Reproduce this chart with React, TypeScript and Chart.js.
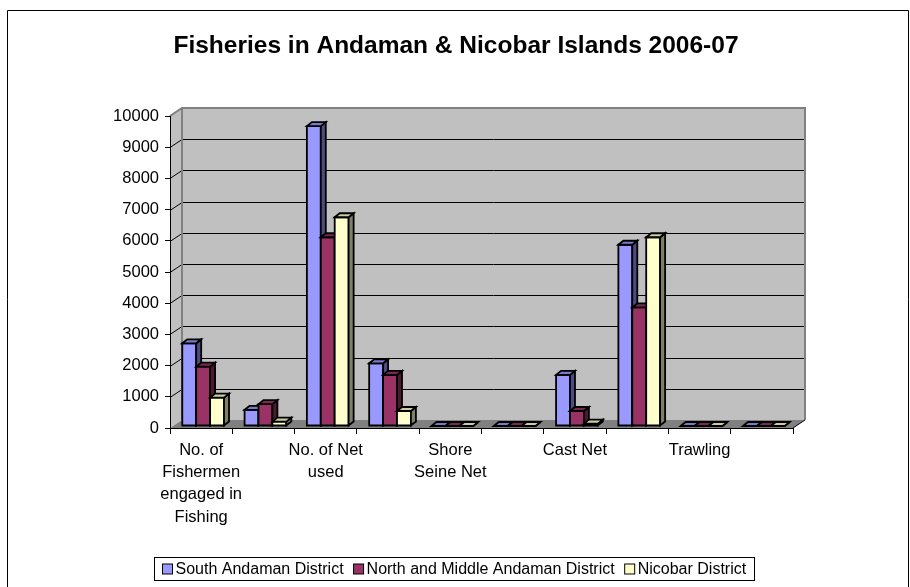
import React, { useEffect, useRef } from "react";
import { Chart, registerables } from "chart.js";

Chart.register(...registerables);

const chartTitle = "Fisheries in Andaman & Nicobar Islands 2006-07";

// Categories (unlabelled ones in the picture are left blank)
const categories = [
  "No. of Fishermen engaged in Fishing",
  "",
  "No. of Net used",
  "",
  "Shore Seine Net",
  "",
  "Cast Net",
  "",
  "Trawling",
  "",
];

// Tick labels as wrapped lines
const tickLabels: (string | string[])[] = [
  ["No. of", "Fishermen", "engaged in", "Fishing"],
  "",
  ["No. of Net", "used"],
  "",
  ["Shore", "Seine Net"],
  "",
  "Cast Net",
  "",
  "Trawling",
  "",
];

const seriesNames = [
  "South Andaman District",
  "North and Middle Andaman District",
  "Nicobar District",
];

const southAndaman = [2650, 520, 9610, 2010, 0, 0, 1640, 5810, 0, 0];
const northMiddleAndaman = [1900, 700, 6050, 1640, 0, 0, 480, 3800, 0, 0];
const nicobar = [910, 140, 6690, 480, 0, 0, 75, 6050, 0, 0];

const yTickValues = [0, 1000, 2000, 3000, 4000, 5000, 6000, 7000, 8000, 9000, 10000];

const frontColors = ["#9999FF", "#993366", "#FFFFCC"];
const capColors = ["#7A7ACC", "#7A2952", "#CCCCA3"];
const sideColors = ["#4C4C80", "#4C1933", "#808066"];

const FONT = "Arial, 'Liberation Sans', sans-serif";

// 3D geometry
const DX = 12;
const DY = -8;
const BX = 2;
const BY = -2;
const BD = 5;
const BV = 4;

const excel3d = {
  id: "excel3d",
  beforeDraw(chart: any) {
    const { ctx, chartArea: a, scales } = chart;
    const ys = scales.y;
    ctx.save();
    ctx.fillStyle = "#ffffff";
    ctx.fillRect(0, 0, chart.width, chart.height);

    // outer frame
    ctx.strokeStyle = "#000";
    ctx.lineWidth = 1;
    ctx.beginPath();
    ctx.moveTo(7.5, chart.height + 5);
    ctx.lineTo(7.5, 10.5);
    ctx.lineTo(chart.width - 1.5, 10.5);
    ctx.lineTo(chart.width - 1.5, chart.height + 5);
    ctx.stroke();

    // title
    ctx.fillStyle = "#000";
    ctx.font = `bold 24.5px ${FONT}`;
    ctx.textAlign = "center";
    ctx.textBaseline = "middle";
    ctx.fillText(chartTitle, 456, 46);

    // left wall
    ctx.fillStyle = "#C0C0C0";
    ctx.beginPath();
    ctx.moveTo(a.left, a.top);
    ctx.lineTo(a.left + DX, a.top + DY);
    ctx.lineTo(a.left + DX, a.bottom + DY);
    ctx.lineTo(a.left, a.bottom);
    ctx.closePath();
    ctx.fill();
    // back wall
    ctx.fillRect(a.left + DX, a.top + DY, a.right - a.left, a.bottom - a.top);
    // floor
    ctx.fillStyle = "#808080";
    ctx.beginPath();
    ctx.moveTo(a.left, a.bottom);
    ctx.lineTo(a.left + DX, a.bottom + DY);
    ctx.lineTo(a.right + DX, a.bottom + DY);
    ctx.lineTo(a.right, a.bottom);
    ctx.closePath();
    ctx.fill();

    // grid lines
    ctx.strokeStyle = "#000";
    ctx.lineWidth = 1;
    yTickValues.forEach((v) => {
      if (v === 0 || v === 10000) return;
      const py = Math.round(ys.getPixelForValue(v)) + 0.5;
      ctx.beginPath();
      ctx.moveTo(a.left, py);
      ctx.lineTo(a.left + DX, py + DY);
      ctx.lineTo(a.right + DX, py + DY);
      ctx.stroke();
    });

    // wall borders
    ctx.strokeStyle = "#808080";
    ctx.lineWidth = 2;
    ctx.beginPath();
    ctx.moveTo(a.left, a.top);
    ctx.lineTo(a.left + DX, a.top + DY);
    ctx.lineTo(a.right + DX, a.top + DY);
    ctx.lineTo(a.right + DX, a.bottom + DY);
    ctx.moveTo(a.left + DX, a.top + DY);
    ctx.lineTo(a.left + DX, a.bottom + DY);
    ctx.stroke();

    // floor right edge
    ctx.strokeStyle = "#000";
    ctx.lineWidth = 1;
    ctx.beginPath();
    ctx.moveTo(a.right, a.bottom);
    ctx.lineTo(a.right + DX, a.bottom + DY);
    ctx.stroke();
    ctx.restore();
  },
  beforeDatasetsDraw(chart: any) {
    const { ctx } = chart;
    ctx.save();
    ctx.lineWidth = 1.8;
    ctx.lineJoin = "miter";
    ctx.strokeStyle = "#000";
    chart.data.datasets.forEach((_ds: any, di: number) => {
      const meta = chart.getDatasetMeta(di);
      meta.data.forEach((el: any) => {
        const { x, y, base, width } = el.getProps(["x", "y", "base", "width"], true);
        const l = x - width / 2 + BX;
        const r = x + width / 2 + BX;
        const t = y + BY;
        const b = base + BY;
        // front
        ctx.fillStyle = frontColors[di];
        ctx.beginPath();
        ctx.rect(l, t, r - l, b - t);
        ctx.fill();
        ctx.stroke();
        // side
        ctx.fillStyle = sideColors[di];
        ctx.beginPath();
        ctx.moveTo(r, t);
        ctx.lineTo(r + BD, t - BV);
        ctx.lineTo(r + BD, b - BV);
        ctx.lineTo(r, b);
        ctx.closePath();
        ctx.fill();
        ctx.stroke();
        // cap
        ctx.fillStyle = capColors[di];
        ctx.beginPath();
        ctx.moveTo(l, t);
        ctx.lineTo(l + BD, t - BV);
        ctx.lineTo(r + BD, t - BV);
        ctx.lineTo(r, t);
        ctx.closePath();
        ctx.fill();
        ctx.stroke();
      });
    });
    ctx.restore();
    return false;
  },
  afterDraw(chart: any) {
    const { ctx } = chart;
    ctx.save();
    ctx.font = `16px ${FONT}`;
    const marker = 10;
    const gap = 3;
    const itemGap = 10;
    const padX = 8;
    const widths = seriesNames.map((n) => ctx.measureText(n).width);
    let total = padX * 2 + itemGap * (seriesNames.length - 1);
    widths.forEach((w) => (total += marker + gap + w));
    const left = Math.round(454 - total / 2) + 0.5;
    const top = 557.5;
    const h = 23;
    ctx.strokeStyle = "#000";
    ctx.lineWidth = 1;
    ctx.strokeRect(left, top, Math.round(total), h);
    let cx = left + padX;
    const cy = top + h / 2;
    ctx.textBaseline = "middle";
    ctx.textAlign = "left";
    seriesNames.forEach((n, i) => {
      ctx.fillStyle = frontColors[i];
      ctx.fillRect(cx, cy - marker / 2, marker, marker);
      ctx.strokeRect(cx, cy - marker / 2, marker, marker);
      cx += marker + gap;
      ctx.fillStyle = "#000";
      ctx.fillText(n, cx, cy + 1);
      cx += widths[i] + itemGap;
    });
    ctx.restore();
  },
};

export default function App() {
  const ref = useRef<HTMLCanvasElement | null>(null);
  useEffect(() => {
    if (!ref.current) return;
    const chart = new Chart(ref.current, {
      type: "bar",
      data: {
        labels: categories,
        datasets: [
          { label: seriesNames[0], data: southAndaman, backgroundColor: frontColors[0] },
          { label: seriesNames[1], data: northMiddleAndaman, backgroundColor: frontColors[1] },
          { label: seriesNames[2], data: nicobar, backgroundColor: frontColors[2] },
        ],
      },
      options: {
        responsive: false,
        animation: false,
        events: [],
        datasets: { bar: { categoryPercentage: 0.67, barPercentage: 1 } },
        layout: { padding: { left: 0, right: 117, top: 116, bottom: 59 } },
        plugins: {
          legend: { display: false },
          title: { display: false },
          tooltip: { enabled: false },
        },
        scales: {
          x: {
            offset: true,
            grid: {
              display: true,
              offset: true,
              drawOnChartArea: false,
              drawTicks: true,
              tickLength: 6,
              color: "#000",
            },
            border: { display: true, color: "#000", width: 1 },
            ticks: {
              autoSkip: false,
              maxRotation: 0,
              minRotation: 0,
              padding: 5,
              color: "#000",
              font: { family: FONT, size: 16.5, lineHeight: 1.35 },
              callback: (_v: any, i: number) => tickLabels[i],
            },
            afterFit: (s: any) => {
              s.height = 100;
            },
          },
          y: {
            min: 0,
            max: 10000,
            ticks: {
              stepSize: 1000,
              padding: 6,
              color: "#000",
              font: { family: FONT, size: 16.5 },
              callback: (v: any) => String(v),
            },
            grid: { display: true, drawOnChartArea: false, tickLength: 5, color: "#000" },
            border: { display: true, color: "#000", width: 1 },
            afterFit: (s: any) => {
              s.width = 170;
            },
          },
        },
      },
      plugins: [excel3d],
    });
    return () => chart.destroy();
  }, []);
  return (
    <div style={{ position: "fixed", left: 0, top: 0, width: 910, height: 587 }}>
      <canvas ref={ref} width={910} height={587} style={{ display: "block" }} />
    </div>
  );
}
